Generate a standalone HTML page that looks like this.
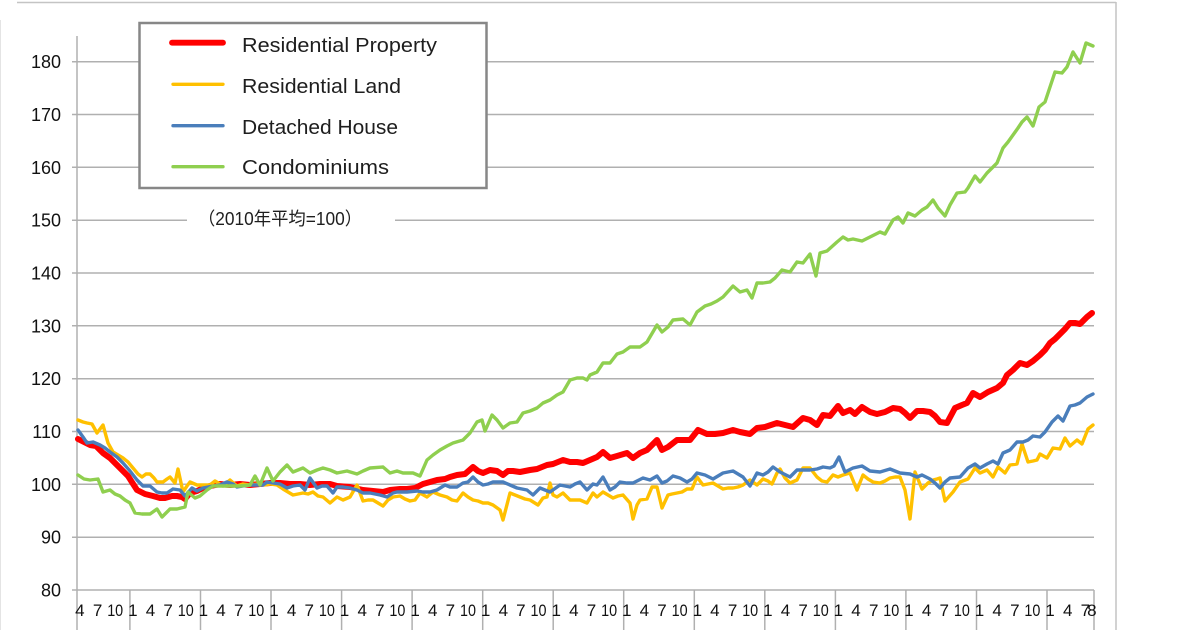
<!DOCTYPE html>
<html>
<head>
<meta charset="utf-8">
<style>
  html,body{margin:0;padding:0;background:#fff;}
  svg{display:block;}
  .yl{font-family:"Liberation Sans","Noto Sans CJK JP",sans-serif;font-size:18px;fill:#111;}
  .xl{font-family:"Liberation Sans","Noto Sans CJK JP",sans-serif;font-size:17px;fill:#111;}
  .lg{font-family:"Liberation Sans","Noto Sans CJK JP",sans-serif;font-size:20.5px;fill:#1e1e1e;}
  .sub{font-family:"Liberation Sans","Noto Sans CJK JP",sans-serif;font-size:18px;fill:#1e1e1e;}
</style>
</head>
<body>
<svg width="1200" height="630" viewBox="0 0 1200 630" xmlns="http://www.w3.org/2000/svg">
  <rect x="0" y="0" width="1200" height="630" fill="#fff"/>
  <line x1="17" y1="2.5" x2="1116" y2="2.5" stroke="#c4c4c4" stroke-width="1.5"/>
  <line x1="1116" y1="2" x2="1116" y2="630" stroke="#c4c4c4" stroke-width="1.5"/>
  <line x1="0.5" y1="20" x2="0.5" y2="630" stroke="#e4e4e4" stroke-width="1"/>

  <g stroke="#b0b0b0" stroke-width="1.5">
    <line x1="72" y1="61.7" x2="1094" y2="61.7"/>
    <line x1="72" y1="114.5" x2="1094" y2="114.5"/>
    <line x1="72" y1="167.3" x2="1094" y2="167.3"/>
    <line x1="72" y1="220.2" x2="187" y2="220.2"/>
    <line x1="395" y1="220.2" x2="1094" y2="220.2"/>
    <line x1="72" y1="273" x2="1094" y2="273"/>
    <line x1="72" y1="325.8" x2="1094" y2="325.8"/>
    <line x1="72" y1="378.7" x2="1094" y2="378.7"/>
    <line x1="72" y1="431.5" x2="1094" y2="431.5"/>
    <line x1="72" y1="484.3" x2="1094" y2="484.3"/>
    <line x1="72" y1="537.2" x2="1094" y2="537.2"/>
    <line x1="72" y1="590" x2="1094" y2="590"/>
    <line x1="77" y1="36" x2="77" y2="630"/>
    <line x1="129.9" y1="590" x2="129.9" y2="630"/>
    <line x1="200.5" y1="590" x2="200.5" y2="630"/>
    <line x1="271" y1="590" x2="271" y2="630"/>
    <line x1="341.6" y1="590" x2="341.6" y2="630"/>
    <line x1="412.1" y1="590" x2="412.1" y2="630"/>
    <line x1="482.7" y1="590" x2="482.7" y2="630"/>
    <line x1="553.2" y1="590" x2="553.2" y2="630"/>
    <line x1="623.7" y1="590" x2="623.7" y2="630"/>
    <line x1="694.3" y1="590" x2="694.3" y2="630"/>
    <line x1="764.8" y1="590" x2="764.8" y2="630"/>
    <line x1="835.4" y1="590" x2="835.4" y2="630"/>
    <line x1="905.9" y1="590" x2="905.9" y2="630"/>
    <line x1="976.5" y1="590" x2="976.5" y2="630"/>
    <line x1="1047" y1="590" x2="1047" y2="630"/>
    <line x1="1094" y1="590" x2="1094" y2="630"/>
  </g>

  <g class="yl" text-anchor="end">
    <text x="61" y="68.2">180</text>
    <text x="61" y="121">170</text>
    <text x="61" y="173.8">160</text>
    <text x="61" y="226.7">150</text>
    <text x="61" y="279.5">140</text>
    <text x="61" y="332.3">130</text>
    <text x="61" y="385.2">120</text>
    <text x="61" y="438">110</text>
    <text x="61" y="490.8">100</text>
    <text x="61" y="543.7">90</text>
    <text x="61" y="596.5">80</text>
  </g>

  <g class="xl" text-anchor="middle">
    <text x="79.9" y="616">4</text><text x="97.6" y="616">7</text><text x="115.2" y="616" textLength="16" lengthAdjust="spacingAndGlyphs">10</text>
    <text x="132.9" y="616">1</text><text x="150.5" y="616">4</text><text x="168.1" y="616">7</text><text x="185.8" y="616" textLength="16" lengthAdjust="spacingAndGlyphs">10</text>
    <text x="203.4" y="616">1</text><text x="221" y="616">4</text><text x="238.7" y="616">7</text><text x="256.3" y="616" textLength="16" lengthAdjust="spacingAndGlyphs">10</text>
    <text x="274" y="616">1</text><text x="291.6" y="616">4</text><text x="309.2" y="616">7</text><text x="326.9" y="616" textLength="16" lengthAdjust="spacingAndGlyphs">10</text>
    <text x="344.5" y="616">1</text><text x="362.2" y="616">4</text><text x="379.8" y="616">7</text><text x="397.4" y="616" textLength="16" lengthAdjust="spacingAndGlyphs">10</text>
    <text x="415.1" y="616">1</text><text x="432.7" y="616">4</text><text x="450.4" y="616">7</text><text x="468" y="616" textLength="16" lengthAdjust="spacingAndGlyphs">10</text>
    <text x="485.6" y="616">1</text><text x="503.3" y="616">4</text><text x="520.9" y="616">7</text><text x="538.5" y="616" textLength="16" lengthAdjust="spacingAndGlyphs">10</text>
    <text x="556.2" y="616">1</text><text x="573.8" y="616">4</text><text x="591.5" y="616">7</text><text x="609.1" y="616" textLength="16" lengthAdjust="spacingAndGlyphs">10</text>
    <text x="626.7" y="616">1</text><text x="644.4" y="616">4</text><text x="662" y="616">7</text><text x="679.6" y="616" textLength="16" lengthAdjust="spacingAndGlyphs">10</text>
    <text x="697.3" y="616">1</text><text x="714.9" y="616">4</text><text x="732.6" y="616">7</text><text x="750.2" y="616" textLength="16" lengthAdjust="spacingAndGlyphs">10</text>
    <text x="767.8" y="616">1</text><text x="785.5" y="616">4</text><text x="803.1" y="616">7</text><text x="820.8" y="616" textLength="16" lengthAdjust="spacingAndGlyphs">10</text>
    <text x="838.4" y="616">1</text><text x="856" y="616">4</text><text x="873.7" y="616">7</text><text x="891.3" y="616" textLength="16" lengthAdjust="spacingAndGlyphs">10</text>
    <text x="908.9" y="616">1</text><text x="926.6" y="616">4</text><text x="944.2" y="616">7</text><text x="961.9" y="616" textLength="16" lengthAdjust="spacingAndGlyphs">10</text>
    <text x="979.5" y="616">1</text><text x="997.1" y="616">4</text><text x="1014.8" y="616">7</text><text x="1032.4" y="616" textLength="16" lengthAdjust="spacingAndGlyphs">10</text>
    <text x="1050" y="616">1</text><text x="1067.7" y="616">4</text><text x="1085.3" y="616">7</text><text x="1091.8" y="616">8</text>
  </g>

  <text class="sub" x="198" y="225" textLength="164" lengthAdjust="spacingAndGlyphs">（2010年平均=100）</text>

  <g fill="none" stroke-linejoin="round" stroke-linecap="round">
    <polyline stroke="#ff0000" stroke-width="6" points="78,439 84,442 90,445 96,446 103,453 110,458 120,468 128,476 137,490 145,494 153,496 160,498 165,498 172,496 177,496 182,497 185,499 190,493 197,491 203,488 210,486 220,484 230,485 240,484 250,485 260,484 270,483 280,483 290,484 300,484 310,485 320,484 330,484 337,486 350,487 363,490 373,491 383,492 390,490 400,489 407,489 415,488 423,484 430,482 437,480 445,479 450,477 457,475 465,474 473,467 478,471 483,473 490,470 497,471 503,475 508,471 513,471 520,472 530,470 537,469 547,465 553,464 563,460 570,462 577,462 583,463 590,460 597,457 603,452 610,458 617,456 627,453 633,458 640,453 647,450 657,440 662,450 668,447 677,440 684,440 690,440 698,430 707,434 715,434 723,433 733,430 740,432 750,434 757,428 765,427 777,423 785,425 793,427 803,418 810,420 817,425 823,415 830,416 838,406 843,413 850,410 855,414 862,407 870,412 877,414 885,412 893,408 900,409 905,413 910,418 917,411 923,411 930,412 935,416 940,422 947,423 955,408 962,405 967,403 973,393 980,397 988,392 997,388 1003,383 1007,375 1013,370 1020,363 1027,365 1033,361 1040,355 1045,350 1050,343 1055,339 1060,334 1065,329 1070,323 1075,323 1080,324 1087,317 1092,313"/>
    <polyline stroke="#ffc000" stroke-width="3.4" points="78,420 83,422 87,423 92,424 97,433 103,425 108,443 113,452 118,455 123,458 128,462 133,468 138,474 142,477 146,474 150,474 154,478 157,482 163,482 167,479 170,477 175,483 178,469 183,492 187,486 190,482 197,485 203,485 210,485 215,481 223,486 230,480 237,486 243,484 250,485 258,484 265,485 270,484 277,485 283,489 288,492 293,495 298,494 303,493 308,494 313,492 318,496 323,497 330,503 337,497 343,500 350,497 357,485 363,501 368,500 373,500 378,503 383,506 388,500 393,497 400,496 405,499 410,501 415,500 420,493 427,497 433,492 440,495 447,497 452,500 457,501 463,493 468,497 473,500 478,501 483,503 488,503 493,505 500,510 503,520 510,493 515,495 520,497 525,499 530,500 538,505 543,498 547,497 550,483 553,495 557,497 563,493 567,497 570,500 575,500 580,500 587,503 593,493 597,497 603,492 608,495 613,498 618,496 623,495 630,503 633,519 637,505 640,500 647,499 652,487 657,487 662,508 668,495 672,494 677,493 682,492 687,489 692,489 697,477 703,485 708,484 713,483 718,486 723,489 728,488 733,488 738,487 743,485 750,480 757,485 763,479 768,481 772,484 777,473 780,469 785,478 790,483 797,480 803,468 810,468 817,477 822,481 827,482 833,475 838,477 843,475 850,473 857,490 863,475 868,479 873,482 880,483 885,481 890,478 895,477 900,477 905,490 910,519 915,472 922,489 928,483 933,480 937,479 940,478 945,501 953,492 960,482 968,479 975,468 980,473 987,470 993,477 998,467 1005,473 1010,465 1017,464 1022,444 1028,462 1033,461 1037,460 1040,454 1047,458 1053,448 1060,449 1065,438 1070,446 1077,440 1082,444 1088,429 1093,425"/>
    <polyline stroke="#4a7ebb" stroke-width="3.4" points="78,430 83,437 87,443 93,442 100,445 105,448 110,452 117,457 123,463 130,471 137,480 143,486 150,486 157,492 162,493 167,493 173,489 180,490 185,496 192,488 197,491 203,488 213,486 220,485 227,482 233,484 237,487 243,486 250,485 257,485 263,485 267,482 273,483 280,484 287,488 293,486 300,485 305,490 310,478 317,488 322,486 327,486 333,493 337,487 343,487 350,488 357,490 363,493 370,493 380,495 387,497 393,493 397,492 407,492 417,491 423,492 430,492 437,490 445,485 450,487 457,487 463,483 468,482 473,477 478,482 483,485 488,484 493,482 503,482 510,485 517,488 527,490 533,495 540,488 545,490 550,492 560,485 570,487 575,484 580,482 587,490 593,484 597,485 603,477 610,490 615,487 620,482 627,483 633,483 643,478 650,480 657,476 662,483 667,481 673,476 680,478 687,482 692,479 697,473 705,475 713,479 723,473 733,471 738,474 743,477 750,486 757,473 763,475 768,472 773,467 780,472 790,477 797,470 803,470 810,470 817,469 823,467 830,468 834,466 839,457 845,472 853,468 862,466 870,471 880,472 890,469 900,473 910,474 917,477 922,475 930,479 935,483 940,488 945,482 950,478 960,477 968,468 975,464 980,468 987,464 993,461 998,464 1003,453 1010,450 1017,442 1023,442 1028,440 1033,436 1040,437 1045,432 1052,422 1058,416 1063,421 1070,406 1075,405 1080,403 1087,397 1093,394"/>
    <polyline stroke="#8fcf4f" stroke-width="3.4" points="78,475 84,479 90,480 98,479 103,492 110,490 115,494 120,496 125,500 130,503 135,513 142,514 150,514 157,509 162,517 170,509 177,509 185,507 188,492 195,498 200,496 207,490 213,486 220,486 230,486 240,486 250,485 255,476 260,485 267,468 273,481 280,472 287,465 293,472 298,470 303,468 310,473 317,470 323,468 330,470 337,473 347,471 357,474 363,471 370,468 383,467 390,473 397,471 403,473 413,473 420,476 427,460 433,455 440,450 447,446 453,443 463,440 470,433 477,422 482,420 485,431 492,415 497,420 503,428 510,423 517,422 523,413 530,411 537,408 543,403 550,400 557,395 563,392 570,380 577,378 583,378 587,380 590,375 597,372 603,363 610,363 617,354 623,352 630,347 640,347 647,342 657,325 662,332 668,327 673,320 683,319 690,325 697,312 705,306 711,304 717,301 723,297 733,286 740,292 747,290 752,298 757,283 763,283 770,282 775,278 782,270 790,272 797,262 803,263 810,254 816,276 820,253 827,251 837,242 843,237 848,240 853,239 862,241 870,237 880,232 885,234 893,220 898,217 903,223 908,213 915,216 922,210 927,207 933,200 938,208 945,216 950,205 957,193 965,192 968,188 975,176 980,182 987,173 992,168 997,163 1003,148 1008,142 1013,135 1018,128 1022,122 1027,117 1033,126 1039,107 1045,102 1050,87 1055,72 1062,73 1067,67 1073,52 1080,63 1086,43 1093,46"/>
  </g>

  <rect x="139.5" y="23" width="347" height="165" fill="#fff" stroke="#878787" stroke-width="2.5"/>
  <g stroke-linecap="round">
    <line x1="172" y1="42.7" x2="223" y2="42.7" stroke="#ff0000" stroke-width="5.8"/>
    <line x1="173" y1="84.3" x2="223" y2="84.3" stroke="#ffc000" stroke-width="3.3"/>
    <line x1="173" y1="125.7" x2="223" y2="125.7" stroke="#4a7ebb" stroke-width="3.3"/>
    <line x1="173" y1="166.7" x2="223" y2="166.7" stroke="#8fcf4f" stroke-width="3.3"/>
  </g>
  <g class="lg">
    <text x="242" y="52" textLength="195" lengthAdjust="spacingAndGlyphs">Residential Property</text>
    <text x="242" y="93" textLength="159" lengthAdjust="spacingAndGlyphs">Residential Land</text>
    <text x="242" y="134" textLength="156" lengthAdjust="spacingAndGlyphs">Detached House</text>
    <text x="242" y="174" textLength="147" lengthAdjust="spacingAndGlyphs">Condominiums</text>
  </g>
</svg>
</body>
</html>
